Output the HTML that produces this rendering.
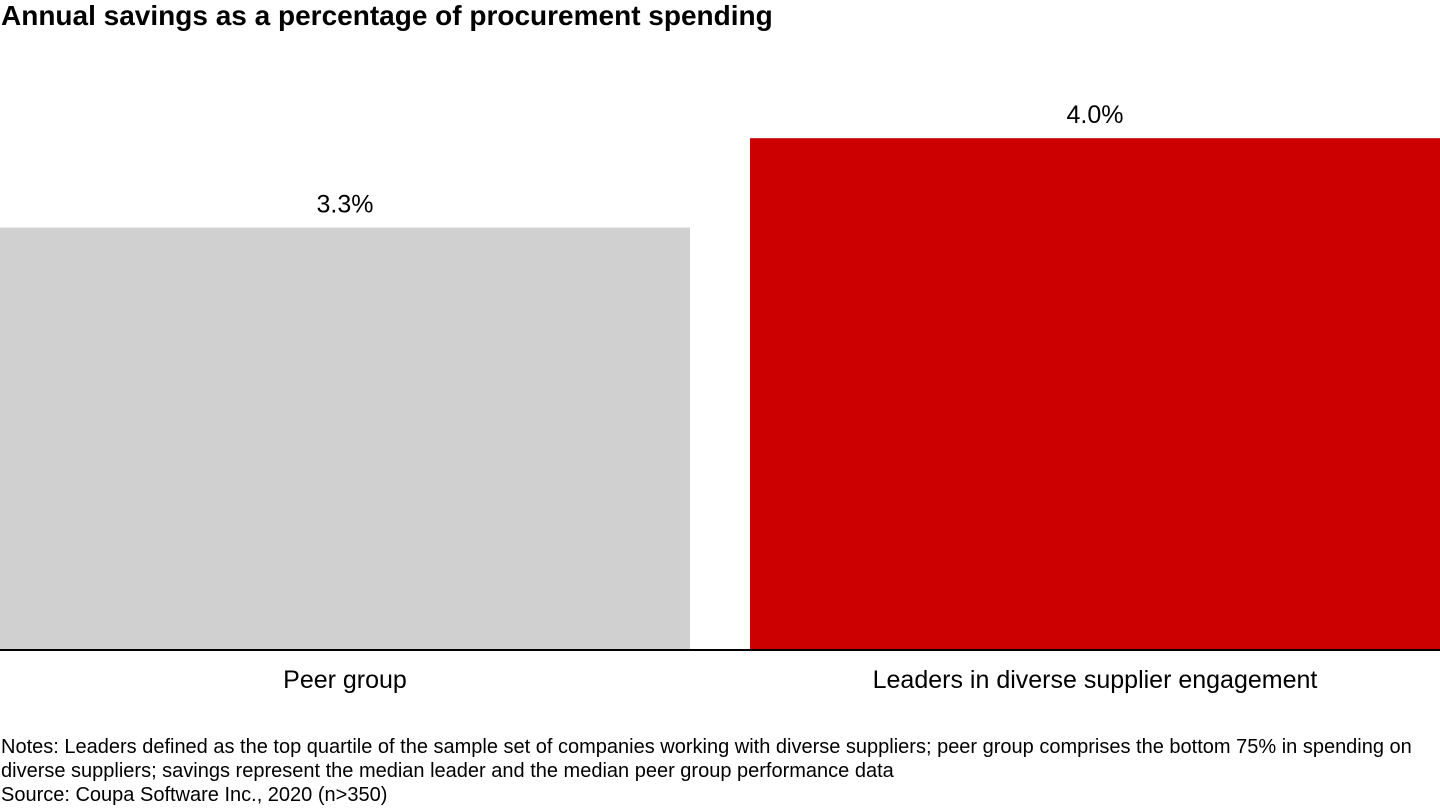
<!DOCTYPE html>
<html><head><meta charset="utf-8"><style>
html,body{margin:0;padding:0;background:#fff;width:1440px;height:810px;overflow:hidden;font-family:"Liberation Sans",Arial,sans-serif;}
#title{position:absolute;left:1px;top:0px;font-size:28px;font-weight:bold;color:#000;}
#notes{position:absolute;left:1px;top:735px;font-size:20px;line-height:24px;color:#000;width:1430px;}
svg{position:absolute;left:0;top:0;}
</style></head><body>
<div id="title">Annual savings as a percentage of procurement spending</div>
<svg id="chart" width="1440" height="810"></svg>
<div id="notes">Notes: Leaders defined as the top quartile of the sample set of companies working with diverse suppliers; peer group comprises the bottom 75% in spending on diverse suppliers; savings represent the median leader and the median peer group performance data<br>Source: Coupa Software Inc., 2020 (n&gt;350)</div>
<script>
const categories = ["Peer group", "Leaders in diverse supplier engagement"];
const values = [3.3, 4.0];
const valueLabels = ["3.3%", "4.0%"];
const colors = ["#d0d0d0", "#cc0000"];

const NS = "http://www.w3.org/2000/svg";
const svg = document.getElementById("chart");
const baseY = 649, pxPerUnit = 127.7;
const y = v => baseY - v * pxPerUnit;
const barW = 690, gap = 60;
const x = i => i * (barW + gap);

categories.forEach((c, i) => {
  const r = document.createElementNS(NS, "rect");
  r.setAttribute("x", x(i));
  r.setAttribute("y", y(values[i]));
  r.setAttribute("width", barW);
  r.setAttribute("height", baseY - y(values[i]));
  r.setAttribute("fill", colors[i]);
  
  
  svg.appendChild(r);

  const t = document.createElementNS(NS, "text");
  t.setAttribute("x", x(i) + barW / 2);
  t.setAttribute("y", y(values[i]) - 15);
  t.setAttribute("text-anchor", "middle");
  t.setAttribute("font-size", "25");
  t.setAttribute("font-family", "Liberation Sans, Arial, sans-serif");
  t.textContent = valueLabels[i];
  
  
  svg.appendChild(t);

  const l = document.createElementNS(NS, "text");
  l.setAttribute("x", x(i) + barW / 2);
  l.setAttribute("y", 688);
  l.setAttribute("text-anchor", "middle");
  l.setAttribute("font-size", "25");
  l.setAttribute("font-family", "Liberation Sans, Arial, sans-serif");
  l.textContent = c;
  
  
  svg.appendChild(l);
});

const axis = document.createElementNS(NS, "line");
axis.setAttribute("x1", 0); axis.setAttribute("x2", 1440);
axis.setAttribute("y1", baseY + 1); axis.setAttribute("y2", baseY + 1);
axis.setAttribute("stroke", "#000"); axis.setAttribute("stroke-width", "2");


svg.appendChild(axis);
</script>
</body></html>
